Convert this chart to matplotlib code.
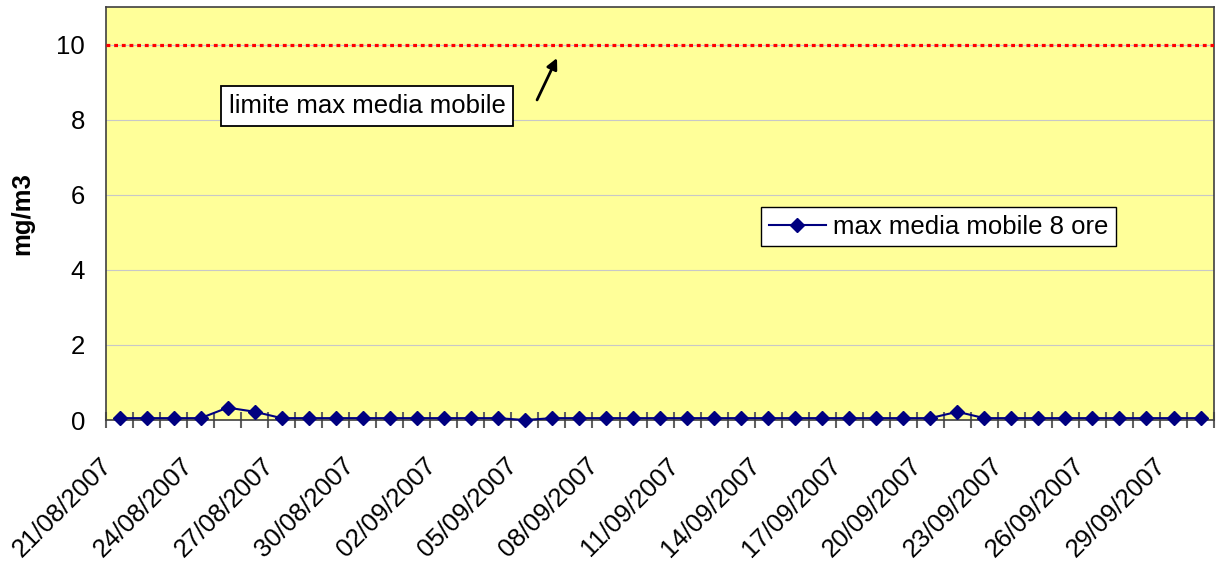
import matplotlib
matplotlib.use("Agg")
import matplotlib.pyplot as plt
import matplotlib.transforms as mtransforms
import pandas as pd
from matplotlib.ticker import FixedLocator

plt.rcParams['font.family'] = ['Liberation Sans', 'DejaVu Sans']

# Daily maximum of the 8-hour moving average (mg/m3)
dates = pd.date_range("2007-08-21", "2007-09-30", freq="D")
date_labels = [d.strftime("%d/%m/%Y") for d in dates]
max_media_mobile = [
    0.05, 0.05, 0.05, 0.05, 0.33, 0.22, 0.05, 0.05, 0.05, 0.05,
    0.05, 0.05, 0.05, 0.05, 0.05, 0.00, 0.05, 0.05, 0.05, 0.05,
    0.05, 0.05, 0.05, 0.05, 0.05, 0.05, 0.05, 0.05, 0.05, 0.05,
    0.05, 0.22, 0.05, 0.05, 0.05, 0.05, 0.05, 0.05, 0.05, 0.05,
    0.05,
]
limite = 10
y_ticks = [0, 2, 4, 6, 8, 10]
label_step = 3

FS = 18.5

fig = plt.figure(figsize=(12.16, 5.65), dpi=100)
ax = fig.add_axes([0.0872, 0.2566, 0.9112, 0.731])
ax.set_facecolor("#FFFF99")

x = list(range(len(dates)))
ax.set_xlim(-0.5, len(dates) - 0.5)
ax.set_ylim(0, 11)

# horizontal gridlines
ax.set_yticks(y_ticks)
ax.yaxis.grid(True, color="#c8c8c8", linewidth=0.8)
ax.set_axisbelow(True)

# threshold line
ax.axhline(limite, color="#FF0000", linewidth=2.3, linestyle=(0, (1.2, 1.2)),
           dash_capstyle="butt", zorder=3)

# series
ax.plot(x, max_media_mobile, color="#000080", linewidth=1.5, marker="D",
        markersize=6.8, markerfacecolor="#000080", markeredgecolor="#000080",
        label="max media mobile 8 ore", zorder=4, clip_on=False)

# category axis: tick marks between categories, labels every third day
ax.xaxis.set_major_locator(FixedLocator(x[::label_step]))
ax.set_xticklabels(date_labels[::label_step], rotation=45, ha="right",
                   va="center", rotation_mode="anchor", fontsize=FS)
ax.tick_params(axis="x", which="major", length=0, pad=30)
shift = mtransforms.ScaledTranslation(-12 / 100, 0, fig.dpi_scale_trans)
for lbl in ax.get_xticklabels():
    lbl.set_transform(lbl.get_transform() + shift)
ax.xaxis.set_minor_locator(FixedLocator([i - 0.5 for i in range(len(dates) + 1)]))
ax.tick_params(axis="x", which="minor", direction="inout", length=11,
               width=1.5, color="#606060")

ax.tick_params(axis="y", which="major", length=0, pad=15, labelsize=FS)
ax.set_ylabel("mg/m3", fontsize=FS, fontweight="bold")
ax.yaxis.set_label_coords(-0.065, 0.5)

for side in ["left", "bottom", "top", "right"]:
    ax.spines[side].set_color("#404040")
    ax.spines[side].set_linewidth(1.2)

# annotation box with arrow to the limit line
ax.text(0.2356, 0.760, "limite max media mobile", transform=ax.transAxes,
        fontsize=FS, ha="center", va="center",
        bbox=dict(boxstyle="square,pad=0.3", facecolor="white",
                  edgecolor="black", linewidth=1.3), zorder=5)
ax.annotate("", xy=(0.407, 0.8765), xytext=(0.389, 0.775),
            xycoords="axes fraction", textcoords="axes fraction",
            arrowprops=dict(arrowstyle="-|>", color="black", lw=2.0,
                            mutation_scale=16, shrinkA=0, shrinkB=0), zorder=5)

leg = ax.legend(loc="center", bbox_to_anchor=(0.7513, 0.4685), fontsize=FS,
                frameon=True, fancybox=False, framealpha=1, edgecolor="black",
                handlelength=2.2, handletextpad=0.27, borderpad=0.3,
                borderaxespad=0)
leg.get_frame().set_linewidth(1.0)

fig.savefig("out.png", dpi=100)
